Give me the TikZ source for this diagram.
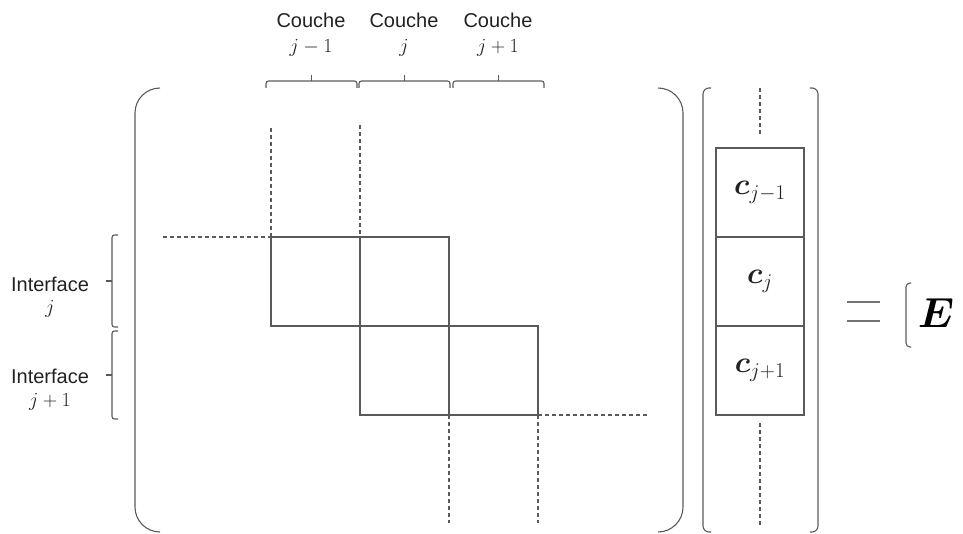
\RequirePackage{fix-cm}
\documentclass[tikz,border=0pt]{standalone}
\usepackage{fontspec}
\setmainfont{Liberation Sans}
\usepackage{bm}
\definecolor{lc}{HTML}{5A5A5A}
\definecolor{tc}{HTML}{222222}
\begin{document}
\begin{tikzpicture}[x=1pt,y=-1pt,
  ln/.style={draw=lc, line width=1.1pt},
  dsh/.style={draw=lc, line width=1.1pt, dash pattern=on 4pt off 3pt},
  cell/.style={draw=lc, line width=1.1pt, minimum width=89pt, minimum height=89pt, inner sep=0pt, outer sep=0pt},
  vcell/.style={cell, minimum width=88pt, text=tc, font=\fontsize{30}{34}\selectfont},
  txt/.style={font=\fontsize{20}{24}\selectfont, text=tc, inner sep=0pt, anchor=base},
  brk/.style={ln, rounded corners=2.5pt}]
\useasboundingbox (0,0) rectangle (963,534);
% matrix blocks
\node[cell] (b11) at (315.5,281.5) {};
\node[cell] (b12) at (404.5,281.5) {};
\node[cell] (b22) at (404.5,370.5) {};
\node[cell] (b23) at (493.5,370.5) {};
% dashed continuations
\coordinate (t1) at (271,128);
\coordinate (t2) at (360,125);
\coordinate (l1) at (163,237);
\coordinate (r1) at (647,415);
\coordinate (d1) at (449,523);
\coordinate (d2) at (538,523);
\draw[dsh] (t1) -- (b11.north west);
\draw[dsh] (t2) -- (b12.north west);
\draw[dsh] (l1) -- (b11.north west);
\draw[dsh] (b23.south east) -- (r1);
\draw[dsh] (b22.south east) -- (d1);
\draw[dsh] (b23.south east) -- (d2);
% big matrix parentheses
\draw[ln, rounded corners=25pt] (160,88) -- (135,88) -- (135,532) -- (160,532);
\draw[ln, rounded corners=25pt] (658,88) -- (683,88) -- (683,532) -- (658,532);
% vector
\node[vcell] (c1) at (760,192.5) {$\bm{c}_{j-1}$};
\node[vcell] (c2) at (760,281.5) {$\bm{c}_{j}$};
\node[vcell] (c3) at (760,370.5) {$\bm{c}_{j+1}$};
\coordinate (vt1) at (760,88);
\coordinate (vt2) at (760,134);
\coordinate (vb1) at (760,423);
\coordinate (vb2) at (760,525);
\draw[dsh] (vt1) -- (vt2);
\draw[dsh] (vb1) -- (vb2);
\draw[ln, rounded corners=6pt] (711,88) -- (703,88) -- (703,532) -- (711,532);
\draw[ln, rounded corners=6pt] (810,88) -- (818,88) -- (818,532) -- (810,532);
% equals and E
\draw[lc!85, line width=1.6pt] (847,302) -- (880,302);
\draw[lc!85, line width=1.6pt] (847,321) -- (880,321);
\draw[ln, rounded corners=4pt] (911,283) -- (906,283) -- (906,347) -- (911,347);
\node[text=black, font=\fontsize{42}{48}\selectfont, inner sep=0pt] (E) at (936,313) {$\bm{E}$};
% top braces
\draw[brk] (266,88) -- (266,81) -- (357,81) -- (357,88);
\draw[ln] (311.5,81) -- (311.5,75);
\draw[brk] (359,88) -- (359,81) -- (450,81) -- (450,88);
\draw[ln] (404.5,81) -- (404.5,75);
\draw[brk] (453,88) -- (453,81) -- (544,81) -- (544,88);
\draw[ln] (498.5,81) -- (498.5,75);
\node[txt] (k1) at (311,28) {Couche};
\node[txt] (k1b) at (311,53) {$j-1$};
\node[txt] (k2) at (404,28) {Couche};
\node[txt] (k2b) at (404,53) {$j$};
\node[txt] (k3) at (498,28) {Couche};
\node[txt] (k3b) at (498,53) {$j+1$};
% left braces
\draw[brk] (118,235) -- (112,235) -- (112,327) -- (118,327);
\draw[ln] (112,281) -- (106,281);
\draw[brk] (118,331) -- (112,331) -- (112,419) -- (118,419);
\draw[ln] (112,375) -- (106,375);
\node[txt] (i1) at (50,292) {Interface};
\node[txt] (i1b) at (50,314) {$j$};
\node[txt] (i2) at (50,383) {Interface};
\node[txt] (i2b) at (50,406) {$j+1$};
\end{tikzpicture}
\end{document}
